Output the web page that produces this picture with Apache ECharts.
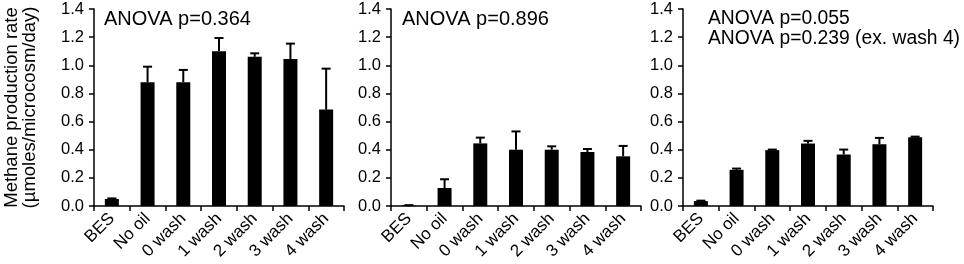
<!DOCTYPE html>
<html>
<head>
<meta charset="utf-8">
<script src="https://cdn.jsdelivr.net/npm/echarts@6/dist/echarts.min.js"></script>
<style>
  html, body { margin: 0; padding: 0; background: #fff; }
  #main { width: 964px; height: 264px; }
</style>
</head>
<body>
<div id="main"></div>
<script>
// categories shared by all three panels
var categories = ["BES", "No oil", "0 wash", "1 wash", "2 wash", "3 wash", "4 wash"];
var yTicks = [0, 0.2, 0.4, 0.6, 0.8, 1.0, 1.2, 1.4];

// panel 1
var means1 = [0.05, 0.88, 0.88, 1.10, 1.06, 1.045, 0.685];
var errs1 = [0.004, 0.11, 0.087, 0.094, 0.025, 0.109, 0.291];
// panel 2
var means2 = [0.004, 0.128, 0.445, 0.40, 0.40, 0.384, 0.353];
var errs2 = [0.002, 0.062, 0.041, 0.13, 0.024, 0.021, 0.074];
// panel 3
var means3 = [0.035, 0.257, 0.397, 0.444, 0.366, 0.439, 0.489];
var errs3 = [0.003, 0.009, 0.004, 0.019, 0.035, 0.045, 0.004];

var notes = [["ANOVA p=0.364"], ["ANOVA p=0.896"], ["ANOVA p=0.055", "ANOVA p=0.239 (ex. wash 4)"]];

var font = "Arial, 'Liberation Sans', sans-serif";
var lefts = [94, 391, 683];
var noteOffsets = [10, 11, 25];
var noteSizes = [20, 20, 19.3];

var chart = echarts.init(document.getElementById("main"));

function errItem(params, api) {
  var base = api.coord([api.value(0), api.value(1)]);
  var top = api.coord([api.value(0), api.value(1) + api.value(2)]);
  var hw = 4.5;
  var st = { stroke: "#000", lineWidth: 2 };
  return {
    type: "group",
    children: [
      { type: "line", shape: { x1: base[0], y1: base[1], x2: top[0], y2: top[1] }, style: st },
      { type: "line", shape: { x1: top[0] - hw, y1: top[1], x2: top[0] + hw, y2: top[1] }, style: st }
    ]
  };
}

var grids = [], xAxes = [], yAxes = [], series = [], graphics = [];
var allMeans = [means1, means2, means3];
var allErrs = [errs1, errs2, errs3];

for (var p = 0; p < 3; p++) {
  grids.push({ left: lefts[p], top: 9, width: 250, height: 197 });
  xAxes.push({
    type: "category",
    gridIndex: p,
    data: categories,
    axisLine: { lineStyle: { color: "#000", width: 1.5 } },
    axisTick: { show: true, length: 5, lineStyle: { color: "#000", width: 1.5 } },
    axisLabel: { rotate: 45, color: "#000", fontSize: 17, fontFamily: font, margin: 10, interval: 0 }
  });
  yAxes.push({
    type: "value",
    gridIndex: p,
    min: yTicks[0],
    max: yTicks[yTicks.length - 1],
    interval: 0.2,
    splitLine: { show: false },
    axisLine: { show: true, lineStyle: { color: "#000", width: 1.5 } },
    axisTick: { show: true, length: 5, lineStyle: { color: "#000", width: 1.5 } },
    axisLabel: {
      color: "#000", fontSize: 16.5, fontFamily: font, margin: 10,
      formatter: function (v) { return v.toFixed(1); }
    },
    name: p === 0 ? "Methane production rate\n(µmoles/microcosm/day)" : "",
    nameLocation: "middle",
    nameRotate: 90,
    nameGap: 55,
    nameTextStyle: { color: "#000", fontSize: 18.5, fontFamily: font, lineHeight: 18 }
  });
  series.push({
    type: "bar",
    xAxisIndex: p,
    yAxisIndex: p,
    data: allMeans[p],
    barWidth: 14,
    itemStyle: { color: "#000" }
  });
  series.push({
    type: "custom",
    xAxisIndex: p,
    yAxisIndex: p,
    renderItem: errItem,
    data: allMeans[p].map(function (m, i) { return [i, m, allErrs[p][i]]; }),
    z: 3
  });
  notes[p].forEach(function (t, k) {
    graphics.push({
      type: "text",
      left: lefts[p] + noteOffsets[p],
      top: 9 + k * 20.5,
      style: { text: t, fill: "#000", fontSize: noteSizes[p], fontFamily: font }
    });
  });
}

chart.setOption({
  animation: false,
  backgroundColor: "#fff",
  grid: grids,
  xAxis: xAxes,
  yAxis: yAxes,
  series: series,
  graphic: graphics
});
</script>
</body>
</html>
